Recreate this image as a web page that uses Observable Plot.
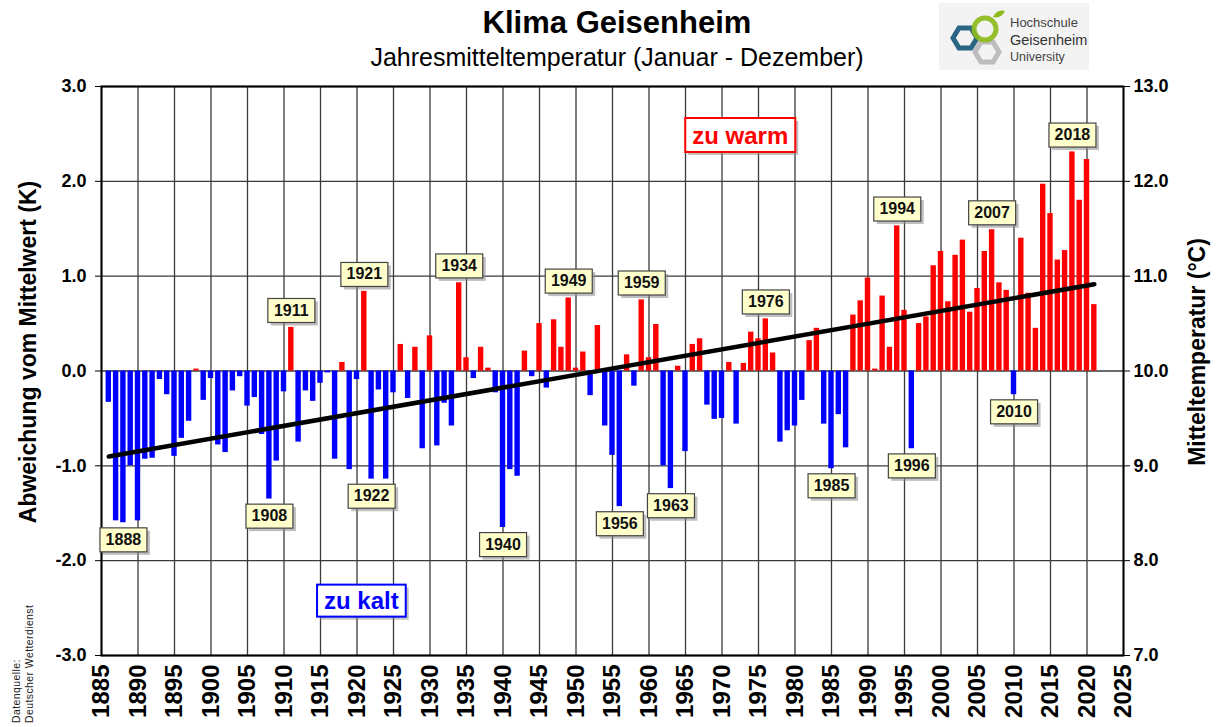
<!DOCTYPE html>
<html>
<head>
<meta charset="utf-8">
<script src="https://cdn.jsdelivr.net/npm/d3@7"></script>
<script src="https://cdn.jsdelivr.net/npm/@observablehq/plot@0.6"></script>
<style>
  body { margin: 0; background: #fff; font-family: "Liberation Sans", Arial, sans-serif; }
  #wrap { position: relative; width: 1222px; height: 727px; overflow: hidden; }
  #wrap svg.main { position: absolute; left: 0; top: 0; }
  .title { position: absolute; left: 0; width: 1234px; text-align: center; color: #000; white-space: nowrap; }
  #t1 { top: 7px; font-size: 31px; line-height: 31px; font-weight: bold; }
  #t2 { top: 45px; font-size: 25px; line-height: 25px; }
  #logo { position: absolute; left: 939px; top: 3px; width: 150px; height: 67px; background: #f3f3f3; }
  #source { position: absolute; left: 10px; top: 723px; transform: rotate(-90deg); transform-origin: left top;
            font-size: 10.5px; line-height: 13px; color: #222; white-space: nowrap; letter-spacing: 0.4px; }
</style>
</head>
<body>
<div id="wrap">
  <div id="t1" class="title">Klima Geisenheim</div>
  <div id="t2" class="title">Jahresmitteltemperatur (Januar - Dezember)</div>
  <div id="logo">
    <svg width="150" height="67" viewBox="0 0 150 67">
      <polygon points="14,35 20,25 32,25 38,35 32,45 20,45" fill="none" stroke="#2b6584" stroke-width="5"/>
      <polygon points="36,49 42,39 54,39 60,49 54,59 42,59" fill="none" stroke="#bdbdbd" stroke-width="5"/>
      <circle cx="46" cy="26" r="11" fill="none" stroke="#8dbb1c" stroke-width="5" opacity="0.92"/>
      <path d="M54,14 Q58,6 66,8 Q62,16 54,14 Z" fill="#8dbb1c"/>
      <text x="71" y="24" font-family="'Liberation Sans',Arial,sans-serif" font-size="13" fill="#444">Hochschule</text>
      <text x="71" y="42" font-family="'Liberation Sans',Arial,sans-serif" font-size="14.5" fill="#333">Geisenheim</text>
      <text x="71" y="58" font-family="'Liberation Sans',Arial,sans-serif" font-size="12.5" fill="#444">University</text>
    </svg>
  </div>
  <div id="source">Datenquelle:<br>Deutscher Wetterdienst</div>
</div>
<script>
// ---- data ----
const firstYear = 1886;
const anomalies = [
  -0.33,-1.58,-1.60,-1.00,-1.58,-0.93,-0.92,-0.09,-0.25,-0.90,
  -0.71,-0.53, 0.02,-0.31,-0.08,-0.78,-0.86,-0.21,-0.06,-0.37,
  -0.28,-0.67,-1.35,-0.95,-0.22, 0.46,-0.75,-0.21,-0.32,-0.13,
  -0.02,-0.93, 0.09,-1.04,-0.09, 0.84,-1.14,-0.20,-1.14,-0.23,
   0.28,-0.29, 0.25,-0.82, 0.37,-0.79,-0.34,-0.58, 0.93, 0.14,
  -0.08, 0.25, 0.03,-0.23,-1.65,-1.04,-1.11, 0.21,-0.06, 0.50,
  -0.18, 0.54, 0.25, 0.77, 0.03, 0.20,-0.26, 0.48,-0.58,-0.89,
  -1.43, 0.17,-0.16, 0.75, 0.14, 0.49,-1.00,-1.24, 0.05,-0.85,
   0.28, 0.34,-0.36,-0.51,-0.50, 0.09,-0.56, 0.08, 0.41, 0.34,
   0.55, 0.19,-0.75,-0.63,-0.58,-0.31, 0.32, 0.45,-0.56,-1.03,
  -0.46,-0.81, 0.59, 0.74, 0.98, 0.02, 0.79, 0.25, 1.53, 0.64,
  -0.82, 0.50, 0.57, 1.11, 1.26, 0.73, 1.22, 1.38, 0.62, 0.87,
   1.26, 1.49, 0.93, 0.85,-0.25, 1.40, 0.82, 0.45, 1.97, 1.66,
   1.17, 1.27, 2.31, 1.80, 2.23, 0.70
];
const years = anomalies.map((_, i) => firstYear + i);
const labelYears = [1888,1908,1911,1921,1922,1934,1940,1949,1956,1959,1963,1976,1985,1994,1996,2007,2010,2018];
const meanTemp = 10.0;
const xTicks = d3.range(1885, 2026, 5);
const yTicks = [-3, -2, -1, 0, 1, 2, 3];
const warmNote = [{label: "zu warm", year: 1972.5, value: 2.48}];
const coldNote = [{label: "zu kalt", year: 1920.6, value: -2.43}];

const data = years.map((year, i) => ({year, value: anomalies[i]}));
const labels = data.filter(d => labelYears.includes(d.year));

const chart = Plot.plot({
  width: 1222,
  height: 727,
  marginTop: 86,
  marginBottom: 72,
  marginLeft: 101,
  marginRight: 99,
  style: {fontFamily: "'Liberation Sans', Arial, sans-serif", fontWeight: "bold", fontSize: "18px", color: "#000", background: "transparent", overflow: "visible"},
  x: {domain: [1885, 2025]},
  y: {domain: [-3, 3]},
  marks: [
    Plot.gridX(xTicks, {stroke: "#3a3a3a", strokeOpacity: 1, strokeWidth: 1.3}),
    Plot.gridY(yTicks, {stroke: "#3a3a3a", strokeOpacity: 1, strokeWidth: 1.3}),
    Plot.rectY(data.filter(d => d.value >= 0), {x1: d => d.year - 0.37, x2: d => d.year + 0.37, y: "value", fill: "#ff0000"}),
    Plot.rectY(data.filter(d => d.value < 0), {x1: d => d.year - 0.37, x2: d => d.year + 0.37, y: "value", fill: "#0000ff"}),
    Plot.linearRegressionY(data, {x: "year", y: "value", stroke: "#000", strokeWidth: 4.5, ci: 0}),
    Plot.frame({stroke: "#000", strokeWidth: 2}),
    Plot.axisY(yTicks, {anchor: "left", tickFormat: d => d.toFixed(1), tickSize: 6, tickPadding: 9, fontSize: 18, label: null}),
    Plot.axisY(yTicks, {anchor: "right", tickFormat: d => (d + meanTemp).toFixed(1), tickSize: 6, tickPadding: 4, fontSize: 18, label: null}),
    Plot.axisX(xTicks, {anchor: "bottom", tickFormat: d => String(d), tickRotate: -90, tickSize: 0, tickPadding: 9, fontSize: 24, label: null}),
    Plot.text(["Abweichung vom Mittelwert (K)"], {frameAnchor: "left", textAnchor: "middle", text: d => d, rotate: -90, dx: -73, dy: -19, fontSize: 23, fontWeight: "bold"}),
    Plot.text(["Mitteltemperatur (°C)"], {frameAnchor: "right", textAnchor: "middle", text: d => d, rotate: -90, dx: 74, dy: -19, fontSize: 23, fontWeight: "bold"}),
    Plot.text(labels.filter(d => d.value >= 0), {x: "year", y: "value", text: d => String(d.year), dy: -17, fontSize: 16, fontWeight: "bold", fill: "#111", ariaDescription: "yearlabel"}),
    Plot.text(labels.filter(d => d.value < 0), {x: "year", y: "value", text: d => String(d.year), dy: 17, fontSize: 16, fontWeight: "bold", fill: "#111", ariaDescription: "yearlabel"}),
    Plot.text(warmNote, {x: "year", y: "value", text: "label", fontSize: 24, fontWeight: "bold", fill: "#ff0000", ariaDescription: "warmnote"}),
    Plot.text(coldNote, {x: "year", y: "value", text: "label", fontSize: 24, fontWeight: "bold", fill: "#0000ff", ariaDescription: "coldnote"})
  ]
});
chart.classList.add("main");
document.getElementById("wrap").insertBefore(chart, document.getElementById("wrap").firstChild);

const NS = "http://www.w3.org/2000/svg";
function boxify(desc, o) {
  chart.querySelectorAll(`g[aria-description="${desc}"]`).forEach(g => {
    g.querySelectorAll("text").forEach(t => {
      const b = t.getBBox();
      const w = o.w != null ? o.w : b.width + 2 * o.padX;
      const h = o.h != null ? o.h : b.height + 2 * o.padY;
      const cx = b.x + b.width / 2, cy = b.y + b.height / 2 + (o.shiftY || 0);
      const tr = t.getAttribute("transform");
      const mk = (dx, dy, fill, stroke, sw, op) => {
        const r = document.createElementNS(NS, "rect");
        r.setAttribute("x", cx - w / 2 + dx);
        r.setAttribute("y", cy - h / 2 + dy);
        r.setAttribute("width", w);
        r.setAttribute("height", h);
        r.setAttribute("fill", fill);
        r.setAttribute("stroke", stroke);
        r.setAttribute("stroke-width", sw);
        if (op != null) r.setAttribute("opacity", op);
        if (tr) r.setAttribute("transform", tr);
        return r;
      };
      if (o.shadow) g.insertBefore(mk(3, 3, "#8a8a8a", "none", 0, 0.55), t);
      g.insertBefore(mk(0, 0, o.fill, o.stroke, o.sw), t);
    });
  });
}
boxify("yearlabel", {w: 47, h: 24, fill: "#ffffcc", stroke: "#444", sw: 1.2, shadow: true, shiftY: 0.5});
boxify("warmnote", {padX: 7, h: 34, fill: "#fff", stroke: "#ff0000", sw: 2, shadow: true});
boxify("coldnote", {padX: 7, h: 32, fill: "#fff", stroke: "#0000ff", sw: 2, shadow: true});
</script>
</body>
</html>
